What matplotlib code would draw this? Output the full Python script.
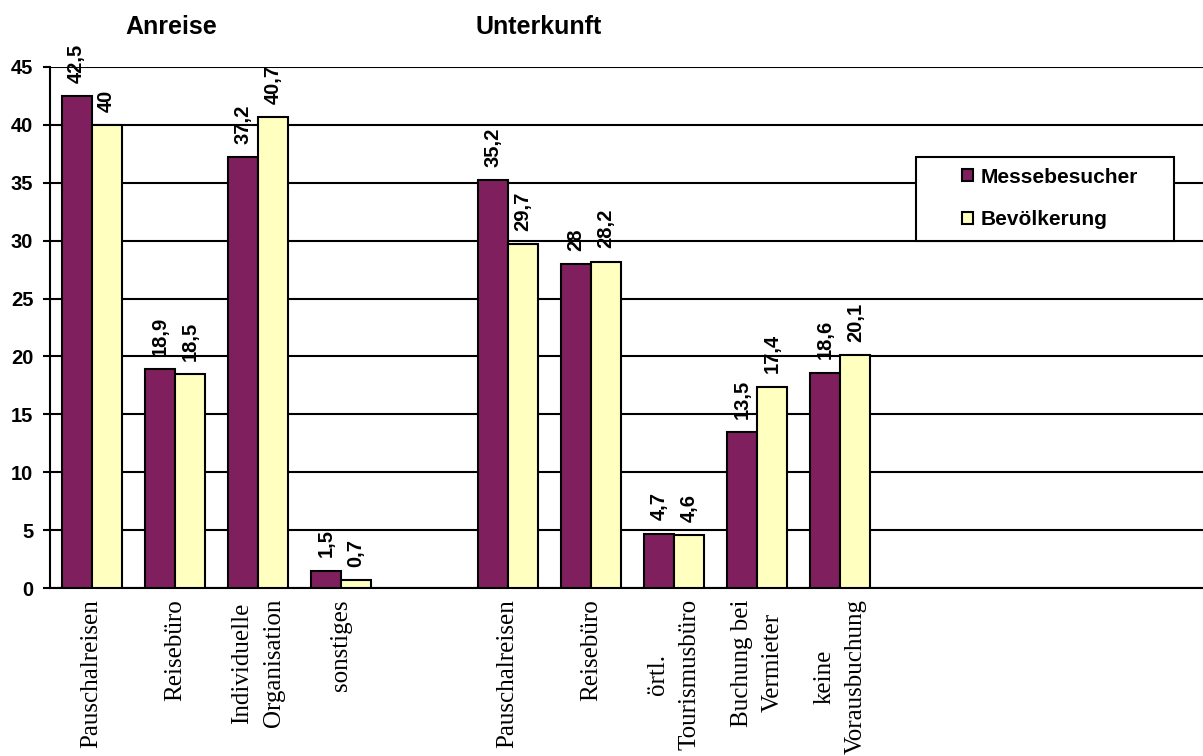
import numpy as np
import matplotlib.pyplot as plt

# categories (empty strings = spacer slots in the original chart)
categories = ["Pauschalreisen", "Reisebüro", "Individuelle\nOrganisation", "sonstiges", "",
              "Pauschalreisen", "Reisebüro", "örtl.\nTourismusbüro", "Buchung bei\nVermieter",
              "keine\nVorausbuchung", "", "", "", ""]
nan = np.nan
messebesucher = [42.5, 18.9, 37.2, 1.5, nan, 35.2, 28.0, 4.7, 13.5, 18.6, nan, nan, nan, nan]
bevoelkerung = [40.0, 18.5, 40.7, 0.7, nan, 29.7, 28.2, 4.6, 17.4, 20.1, nan, nan, nan, nan]
series_names = ["Messebesucher", "Bevölkerung"]
group_titles = ["Anreise", "Unterkunft"]

col_m = "#801f5e"
col_b = "#ffffc0"

plt.rcParams['font.family'] = ['Liberation Sans', 'DejaVu Sans']

fig = plt.figure(figsize=(12.03, 7.56), dpi=100)
ax = fig.add_axes([50/1203, 1 - 588/756, 1 - 50/1203, (588 - 67)/756])

x = np.arange(len(categories))
w = 0.36
ax.bar(x - w/2, messebesucher, w, color=col_m, edgecolor="black", linewidth=1.5,
       label=series_names[0], zorder=3)
ax.bar(x + w/2, bevoelkerung, w, color=col_b, edgecolor="black", linewidth=1.5,
       label=series_names[1], zorder=3)

def fmt(v):
    return f"{v:g}".replace(".", ",")

for xs, vals in [(x - w/2, messebesucher), (x + w/2, bevoelkerung)]:
    for xi, v in zip(xs, vals):
        if np.isnan(v):
            continue
        ax.annotate(fmt(v), (xi, v), xytext=(0, 9.5), textcoords="offset points",
                    rotation=90, ha="center", va="bottom", fontsize=14.5,
                    fontweight="bold", zorder=4)

ax.set_xlim(-0.5, (1203 - 50)/83.2 - 0.5)
ax.set_ylim(0, 45)
ax.set_yticks(np.arange(0, 46, 5))
ax.set_axisbelow(True)
ax.yaxis.grid(True, color="black", linewidth=1.5)
ax.tick_params(axis="y", length=5, width=1.5, labelsize=14.5, pad=7)
for t in ax.get_yticklabels():
    t.set_fontweight("bold")

ax.set_xticks(x)
ax.set_xticklabels(categories, rotation=90, family="Liberation Serif", fontsize=18,
                   multialignment="center")
for t in ax.get_xticklabels():
    t.set_linespacing(1.55)
ax.tick_params(axis="x", length=0, pad=8)

for s in ["right", "top"]:
    ax.spines[s].set_visible(False)
ax.spines["left"].set_linewidth(1.5)
ax.spines["bottom"].set_linewidth(1.5)

# legend box drawn separately (wide padding like the original)
box = plt.Rectangle((916/1203, 1 - 241/756), 258/1203, 84/756, transform=fig.transFigure,
                    facecolor="white", edgecolor="black", linewidth=1.5, zorder=4,
                    clip_on=False)
ax.add_patch(box)
leg = ax.legend(loc="center left", bbox_to_anchor=(962/1203, 1 - 198.5/756),
                bbox_transform=fig.transFigure, frameon=False,
                prop={"weight": "bold", "size": 15}, handlelength=0.55, handleheight=0.55,
                labelspacing=1.15, borderpad=0, handletextpad=0.35, borderaxespad=0)
leg.set_zorder(5)

fig.text(171/1203, 1 - 27/756, group_titles[0], ha="center", va="center",
         fontsize=18, fontweight="bold")
fig.text(539/1203, 1 - 27/756, group_titles[1], ha="center", va="center",
         fontsize=18, fontweight="bold")

fig.savefig("out.png", dpi=100)
